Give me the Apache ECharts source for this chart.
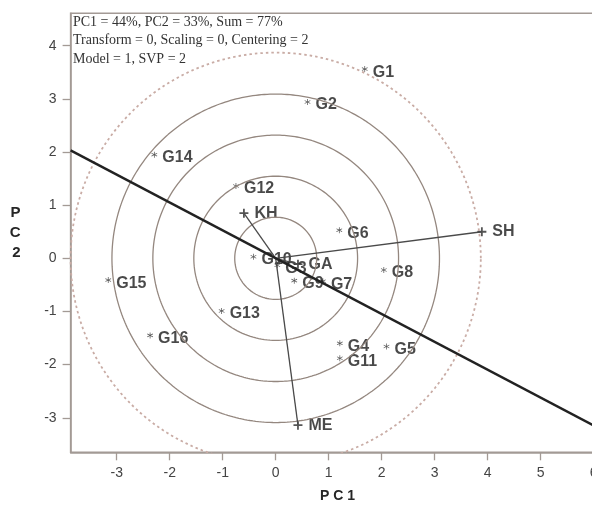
<!DOCTYPE html>
<html>
<head>
<meta charset="utf-8">
<script src="https://cdn.jsdelivr.net/npm/echarts@6/dist/echarts.min.js"></script>
<style>
html,body{margin:0;padding:0;background:#fff;}
#chart{width:592px;height:507px;}
</style>
</head>
<body>
<div id="chart"></div>
<script>
// ---- data ----
const genotypeNames = ['G1','G2','G3','G4','G5','G6','G7','G8','G9','G10','G11','G12','G13','G14','G15','G16'];
const genotypeX = [1.68, 0.60, 0.03, 1.21, 2.09, 1.20, 0.89, 2.04, 0.35, -0.42, 1.21, -0.75, -1.02, -2.29, -3.16, -2.37];
const genotypeY = [3.56, 2.94, -0.13, -1.60, -1.66, 0.53, -0.43, -0.22, -0.42, 0.03, -1.88, 1.36, -0.99, 1.95, -0.41, -1.45];
const envNames = ['SH','KH','ME','GA'];
const envX = [3.89, -0.60, 0.42, 0.42];
const envY = [0.50, 0.85, -3.14, -0.11];
const circleRadii = [0.773, 1.545, 2.318, 3.09];
const dashedRadius = 3.87;
const biplotLine = [[-3.87, 2.03], [6.2, -3.25]];
const xTicks = [-3, -2, -1, 0, 1, 2, 3, 4, 5, 6];
const yTicks = [-3, -2, -1, 0, 1, 2, 3, 4];
const infoLines = ['PC1 = 44%, PC2 = 33%, Sum = 77%', 'Transform = 0, Scaling = 0, Centering = 2', 'Model = 1, SVP = 2'];

// ---- build ----
function circlePts(r) {
  const pts = [];
  for (let i = 0; i <= 360; i++) {
    const a = i * Math.PI / 180;
    pts.push([r * Math.cos(a), r * Math.sin(a)]);
  }
  return pts;
}
const axisColor = '#a39a95';
const asterisk = 'path://M9,0h2v7.3l6.3,-3.6l1,1.7l-6.3,3.6l6.3,3.6l-1,1.7l-6.3,-3.6v7.3h-2v-7.3l-6.3,3.6l-1,-1.7l6.3,-3.6l-6.3,-3.6l1,-1.7l6.3,3.6z';
const plus = 'path://M4,0h2v4h4v2h-4v4h-2v-4h-4v-2h4z';
const labelFont = {fontFamily: 'Liberation Sans, Arial, sans-serif', fontWeight: 'bold', fontSize: 16, color: '#1c1c1c'};

const series = [];
circleRadii.forEach(r => series.push({
  type: 'line', data: circlePts(r), showSymbol: false, silent: true, animation: false,
  lineStyle: {color: '#94877f', width: 1.3}
}));
series.push({
  type: 'line', data: circlePts(dashedRadius), showSymbol: false, silent: true, animation: false,
  lineStyle: {color: '#c9aca5', width: 1.8, type: [2.5, 3]}
});
envNames.forEach((n, i) => series.push({
  type: 'line', data: [[0, 0], [envX[i], envY[i]]], showSymbol: false, silent: true, animation: false,
  lineStyle: {color: '#4a4a4a', width: 1.3}
}));
series.push({
  type: 'line', data: biplotLine, showSymbol: false, silent: true, animation: false,
  lineStyle: {color: '#222', width: 2.4}
});
series.push({
  type: 'scatter', animation: false, symbol: asterisk, symbolSize: 6,
  itemStyle: {color: '#2a2a2a'},
  data: genotypeNames.map((n, i) => ({name: n, value: [genotypeX[i], genotypeY[i]]})),
  label: Object.assign({show: true, position: 'right', distance: 5, offset: [0, 3], formatter: p => p.name}, labelFont)
});
series.push({
  type: 'scatter', animation: false, symbol: plus, symbolSize: 9,
  itemStyle: {color: '#2a2a2a'},
  data: envNames.map((n, i) => ({name: n, value: [envX[i], envY[i]]})),
  label: Object.assign({show: true, position: 'right', distance: 6, offset: [0, 0], formatter: p => p.name}, labelFont)
});

const tickLabelStyle = {fontFamily: 'Liberation Sans, Arial, sans-serif', fontSize: 14, color: '#444'};

const chart = echarts.init(document.getElementById('chart'), null, {renderer: 'canvas'});
chart.setOption({
  backgroundColor: '#fff',
  animation: false,
  grid: {left: 70.6, width: 533.7, top: 13.3, height: 439, outerBoundsMode: 'none', containLabel: false,
         show: true, borderColor: axisColor, borderWidth: 1.5, backgroundColor: 'transparent'},
  xAxis: {
    type: 'value', min: -3.87, max: 6.2,
    axisLine: {show: true, onZero: false, lineStyle: {color: axisColor, width: 1.5}},
    axisTick: {show: true, customValues: xTicks, length: 8, lineStyle: {color: axisColor, width: 1.3}},
    axisLabel: Object.assign({customValues: xTicks, margin: 14}, tickLabelStyle),
    splitLine: {show: false},
    name: 'P C 1', nameLocation: 'middle', nameGap: 37,
    nameTextStyle: {fontFamily: 'Liberation Sans, Arial, sans-serif', fontWeight: 'bold', fontSize: 14, color: '#262626'}
  },
  yAxis: {
    type: 'value', min: -3.65, max: 4.61,
    axisLine: {show: true, onZero: false, lineStyle: {color: axisColor, width: 1.5}},
    axisTick: {show: true, customValues: yTicks, length: 8, lineStyle: {color: axisColor, width: 1.3}},
    axisLabel: Object.assign({customValues: yTicks, margin: 14}, tickLabelStyle),
    splitLine: {show: false},
    name: 'P\nC\n2', nameLocation: 'middle', nameGap: 50, nameRotate: 0,
    nameTextStyle: {fontFamily: 'Liberation Sans, Arial, sans-serif', fontWeight: 'bold', fontSize: 15, color: '#262626', lineHeight: 20}
  },
  graphic: [{
    type: 'text', left: 73, top: 13,
    style: {text: infoLines.join('\n'), fontFamily: 'Liberation Serif, Times New Roman, serif', fontSize: 14, lineHeight: 18.5, fill: '#333'}
  }],
  series: series
});
</script>
</body>
</html>
